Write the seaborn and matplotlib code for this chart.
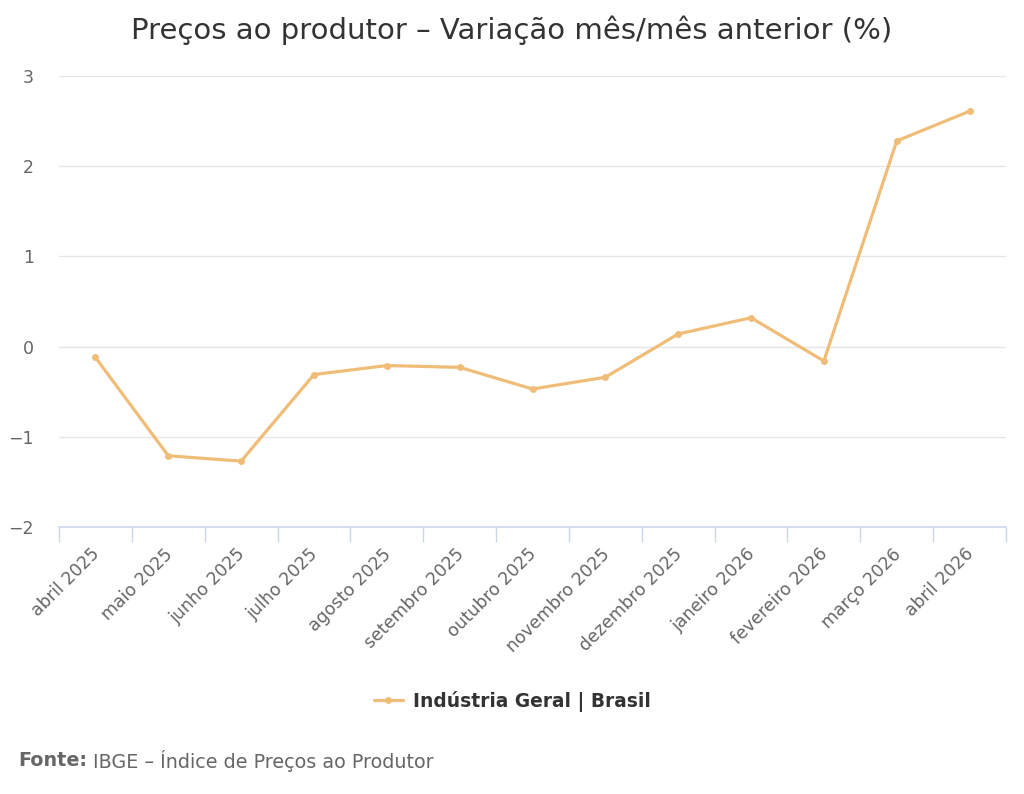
import matplotlib
matplotlib.use("Agg")
import matplotlib.pyplot as plt
import matplotlib.transforms as mtransforms
import seaborn as sns
import pandas as pd
from matplotlib.ticker import FixedLocator

meses = ["abril 2025", "maio 2025", "junho 2025", "julho 2025", "agosto 2025",
         "setembro 2025", "outubro 2025", "novembro 2025", "dezembro 2025",
         "janeiro 2026", "fevereiro 2026", "março 2026", "abril 2026"]
variacao = [-0.12, -1.21, -1.27, -0.31, -0.21, -0.23, -0.47, -0.34, 0.14, 0.32, -0.16, 2.28, 2.61]
serie = "Indústria Geral | Brasil"

df = pd.DataFrame({"mes": meses, "valor": variacao, "pos": range(len(meses))})

sns.set_theme(style="white")
plt.rcParams["font.family"] = ["DejaVu Sans"]

cor = "#f0bd78"
fig = plt.figure(figsize=(10.24, 7.94), dpi=100)
ax = fig.add_axes([59 / 1024, (794 - 527) / 794, (1006 - 59) / 1024, (527 - 76) / 794])

sns.lineplot(data=df, x="pos", y="valor", ax=ax, color=cor, linewidth=2.3,
             marker="o", markersize=5, markeredgewidth=0, label=serie, legend=False)

ax.set_xlim(-0.5, len(meses) - 0.5)
ax.set_ylim(-2, 3)
ax.set_yticks([-2, -1, 0, 1, 2, 3])
ax.set_yticklabels(["−2", "−1", "0", "1", "2", "3"])
ax.yaxis.grid(True, color="#e6e6e6", linewidth=1)
ax.set_axisbelow(True)

ax.set_xticks(range(len(meses)))
ax.set_xticklabels(meses, rotation=45, ha="right", rotation_mode="anchor")
ax.xaxis.set_minor_locator(FixedLocator([i - 0.5 for i in range(len(meses) + 1)]))
ax.tick_params(axis="x", which="major", length=0, pad=13, labelsize=12.5, labelcolor="#666666")
ax.tick_params(axis="x", which="minor", length=11, width=1, color="#ccd6eb", bottom=True)
ax.tick_params(axis="y", length=0, pad=18, labelsize=12.5, labelcolor="#666666")
ax.set_xlabel("")
ax.set_ylabel("")

shift = mtransforms.ScaledTranslation(-5 / 100, 0, fig.dpi_scale_trans)
for lbl in ax.get_xticklabels():
    lbl.set_transform(lbl.get_transform() + shift)

for s in ["top", "right", "left"]:
    ax.spines[s].set_visible(False)
ax.spines["bottom"].set_color("#ccd6eb")
ax.spines["bottom"].set_linewidth(1.2)

fig.suptitle("Preços ao produtor – Variação mês/mês anterior (%)", x=0.5, y=1 - 30 / 794,
             fontsize=21, color="#333333", va="center")

handles, labels = ax.get_legend_handles_labels()
fig.legend(handles, labels, loc="center", bbox_to_anchor=(0.5, 1 - 701 / 794), frameon=False,
           prop={"weight": "bold", "size": 13.4}, labelcolor="#333333", handlelength=1.6,
           handletextpad=0.5)

fonte = fig.text(18 / 1024, 1 - 761 / 794, "Fonte:", fontsize=13.8, fontweight="bold",
                 color="#666666", va="center")
fig.canvas.draw()
bb = fonte.get_window_extent()
fig.text((bb.x1 + 6) / 1024, 1 - 761 / 794, "IBGE – Índice de Preços ao Produtor",
         fontsize=13.8, color="#666666", va="center")

fig.savefig("out.png", dpi=100)
